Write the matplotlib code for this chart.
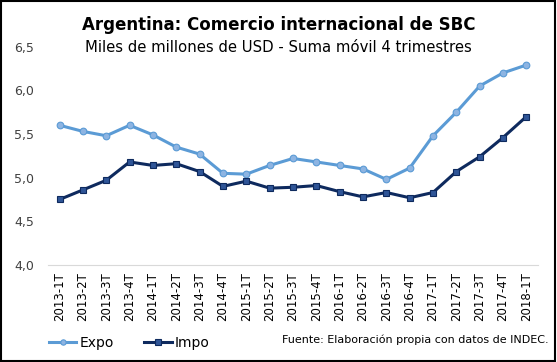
import matplotlib
matplotlib.use("Agg")
import matplotlib.pyplot as plt
from matplotlib.ticker import FuncFormatter

# Data
quarters = [
    "2013-1T", "2013-2T", "2013-3T", "2013-4T",
    "2014-1T", "2014-2T", "2014-3T", "2014-4T",
    "2015-1T", "2015-2T", "2015-3T", "2015-4T",
    "2016-1T", "2016-2T", "2016-3T", "2016-4T",
    "2017-1T", "2017-2T", "2017-3T", "2017-4T",
    "2018-1T",
]
expo = [5.60, 5.53, 5.48, 5.60, 5.49, 5.35, 5.27, 5.05, 5.04, 5.14, 5.22,
        5.18, 5.14, 5.10, 4.98, 5.11, 5.48, 5.75, 6.05, 6.20, 6.29]
impo = [4.75, 4.86, 4.97, 5.18, 5.14, 5.16, 5.07, 4.90, 4.96, 4.88, 4.89,
        4.91, 4.84, 4.78, 4.83, 4.77, 4.83, 5.07, 5.24, 5.46, 5.70]

fig = plt.figure(figsize=(5.57, 3.62), dpi=100)
ax = fig.add_axes([0.086, 0.268, 0.880, 0.603])

x = list(range(len(quarters)))
l1, = ax.plot(x, expo, color="#5B9BD5", lw=2.2, marker="o", ms=4.8,
              mfc="#8DB4E2", mec="#5B9BD5", mew=0.8, label="Expo")
l2, = ax.plot(x, impo, color="#0E2A5E", lw=2.2, marker="s", ms=4.8,
              mfc="#2F5597", mec="#0E2A5E", mew=0.8, label="Impo")

ax.set_xlim(-0.5, len(quarters) - 0.5)
ax.set_ylim(4.0, 6.5)
ax.set_yticks([4.0, 4.5, 5.0, 5.5, 6.0, 6.5])
ax.yaxis.set_major_formatter(FuncFormatter(lambda v, p: f"{v:.1f}".replace(".", ",")))
ax.set_xticks(x)
ax.set_xticklabels(quarters, rotation=90, fontsize=8.5)
ax.tick_params(axis="y", labelsize=9, colors="#404040", length=0, pad=10)
ax.tick_params(axis="x", length=0, pad=5)

for s in ["top", "right", "left"]:
    ax.spines[s].set_visible(False)
ax.spines["bottom"].set_color("#D9D9D9")

fig.text(0.50, 0.930, "Argentina: Comercio internacional de SBC",
         ha="center", va="center", fontsize=12, fontweight="bold")
fig.text(0.50, 0.870, "Miles de millones de USD - Suma móvil 4 trimestres",
         ha="center", va="center", fontsize=10.7)

fig.legend(handles=[l1, l2], loc="center left", bbox_to_anchor=(0.065, 0.052),
           ncol=2, frameon=False, fontsize=10, handlelength=2.0,
           handletextpad=0.2, columnspacing=2.2, markerscale=0.8)
fig.text(0.985, 0.062, "Fuente: Elaboración propia con datos de INDEC.",
         ha="right", va="center", fontsize=8)

# black frame round the figure
fig.patches.append(plt.Rectangle((0.002, 0.003), 0.995, 0.994, transform=fig.transFigure,
                                 fill=False, edgecolor="black", lw=1.5))

fig.savefig("out.png", dpi=100)
